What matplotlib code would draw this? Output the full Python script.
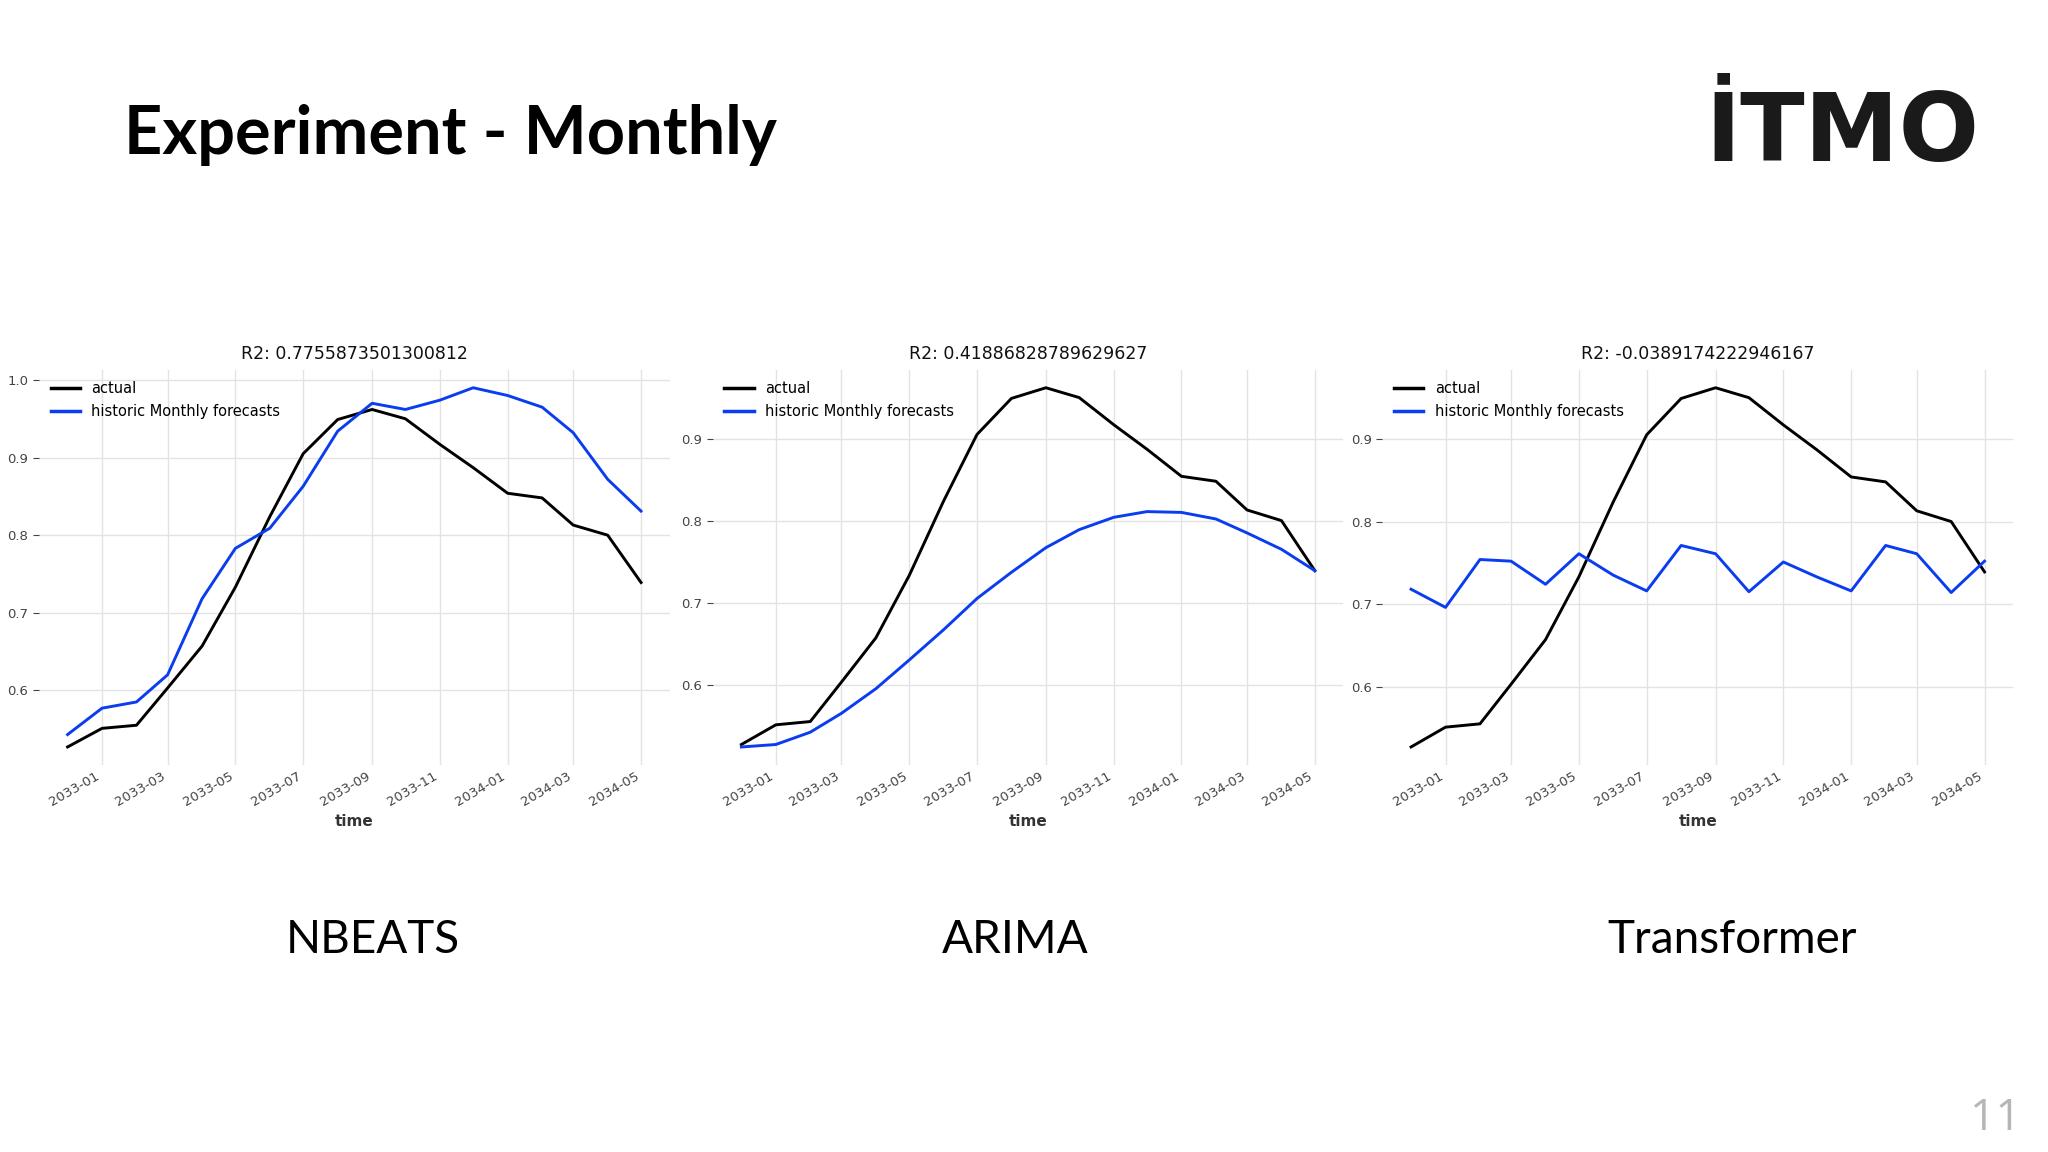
import matplotlib
matplotlib.use("Agg")
import matplotlib.pyplot as plt
import matplotlib.dates as mdates
from matplotlib.ticker import MultipleLocator
import pandas as pd

months = pd.date_range("2032-12-01", periods=18, freq="MS")

actual = [0.527, 0.551, 0.555, 0.603, 0.657, 0.733, 0.824, 0.905, 0.949, 0.962,
          0.950, 0.917, 0.887, 0.854, 0.848, 0.813, 0.800, 0.739]

nbeats = [0.543, 0.577, 0.585, 0.620, 0.718, 0.783, 0.809, 0.863, 0.934, 0.970,
          0.962, 0.974, 0.990, 0.980, 0.965, 0.932, 0.872, 0.831]

arima = [0.524, 0.527, 0.542, 0.565, 0.595, 0.630, 0.667, 0.705, 0.737, 0.767,
         0.789, 0.804, 0.811, 0.810, 0.802, 0.785, 0.765, 0.739]

transformer = [0.718, 0.696, 0.754, 0.752, 0.724, 0.761, 0.735, 0.716, 0.771, 0.761,
               0.715, 0.751, 0.733, 0.716, 0.771, 0.761, 0.714, 0.752]

model_names = ["NBEATS", "ARIMA", "Transformer"]
r2_titles = ["R2: 0.7755873501300812", "R2: 0.41886828789629627", "R2: -0.0389174222946167"]
forecasts = [nbeats, arima, transformer]

slide_title = "Experiment - Monthly"
logo_text = "İTMO"
page_number = "11"

BLUE = "#0A3CF0"

fig = plt.figure(figsize=(20.48, 11.52), dpi=100)
fig.patch.set_facecolor("white")

lefts = [0.019, 0.348, 0.675]
for i in range(3):
    ax = fig.add_axes([lefts[i], 0.336, 0.308, 0.343])
    ax.plot(months, actual, color="black", lw=2.1, label="actual")
    ax.plot(months, forecasts[i], color=BLUE, lw=2.1, label="historic Monthly forecasts")
    for s in ax.spines.values():
        s.set_visible(False)
    ax.grid(True, color="#e3e3e3", lw=1.0)
    ax.set_axisbelow(True)
    ax.xaxis.set_major_locator(mdates.MonthLocator(bymonth=[1, 3, 5, 7, 9, 11]))
    ax.xaxis.set_major_formatter(mdates.DateFormatter("%Y-%m"))
    ax.yaxis.set_major_locator(MultipleLocator(0.1))
    ax.tick_params(axis="y", labelsize=9.5, colors="#444444", length=4, width=0.8)
    ax.tick_params(axis="x", labelsize=9.5, colors="#444444", length=0)
    for lab in ax.get_xticklabels():
        lab.set_rotation(30)
        lab.set_ha("right")
    ax.set_xlabel("time", fontsize=11, fontweight="bold", color="#333333", labelpad=4)
    ax.set_title(r2_titles[i], fontsize=12.5, color="#111111", pad=8)
    leg = ax.legend(loc="upper left", frameon=False, fontsize=10.5, handlelength=2.0,
                    borderaxespad=0.4, labelspacing=0.5)
    for line in leg.get_lines():
        line.set_linewidth(2.5)

# model names
centers = [373 / 2048, 1015 / 2048, 1732 / 2048]
for c, name in zip(centers, model_names):
    fig.text(c, 1 - 953 / 1152, name, fontsize=33, ha="center", va="baseline",
             family="Lato", color="black")

fig.text(124 / 2048, 1 - 154 / 1152, slide_title, fontsize=48, fontweight="bold",
         family="Lato", ha="left", va="baseline", color="black")

fig.text(1979 / 2048, 1 - 161 / 1152, logo_text, fontsize=68, fontweight="heavy",
         family="DejaVu Sans", ha="right", va="baseline", color="#1a1a1a")

fig.text(2021 / 2048, 1 - 1130 / 1152, page_number, fontsize=32, ha="right",
         va="baseline", family="Open Sans", color="#b5b5b5")

fig.savefig("out.png", dpi=100, facecolor="white")
